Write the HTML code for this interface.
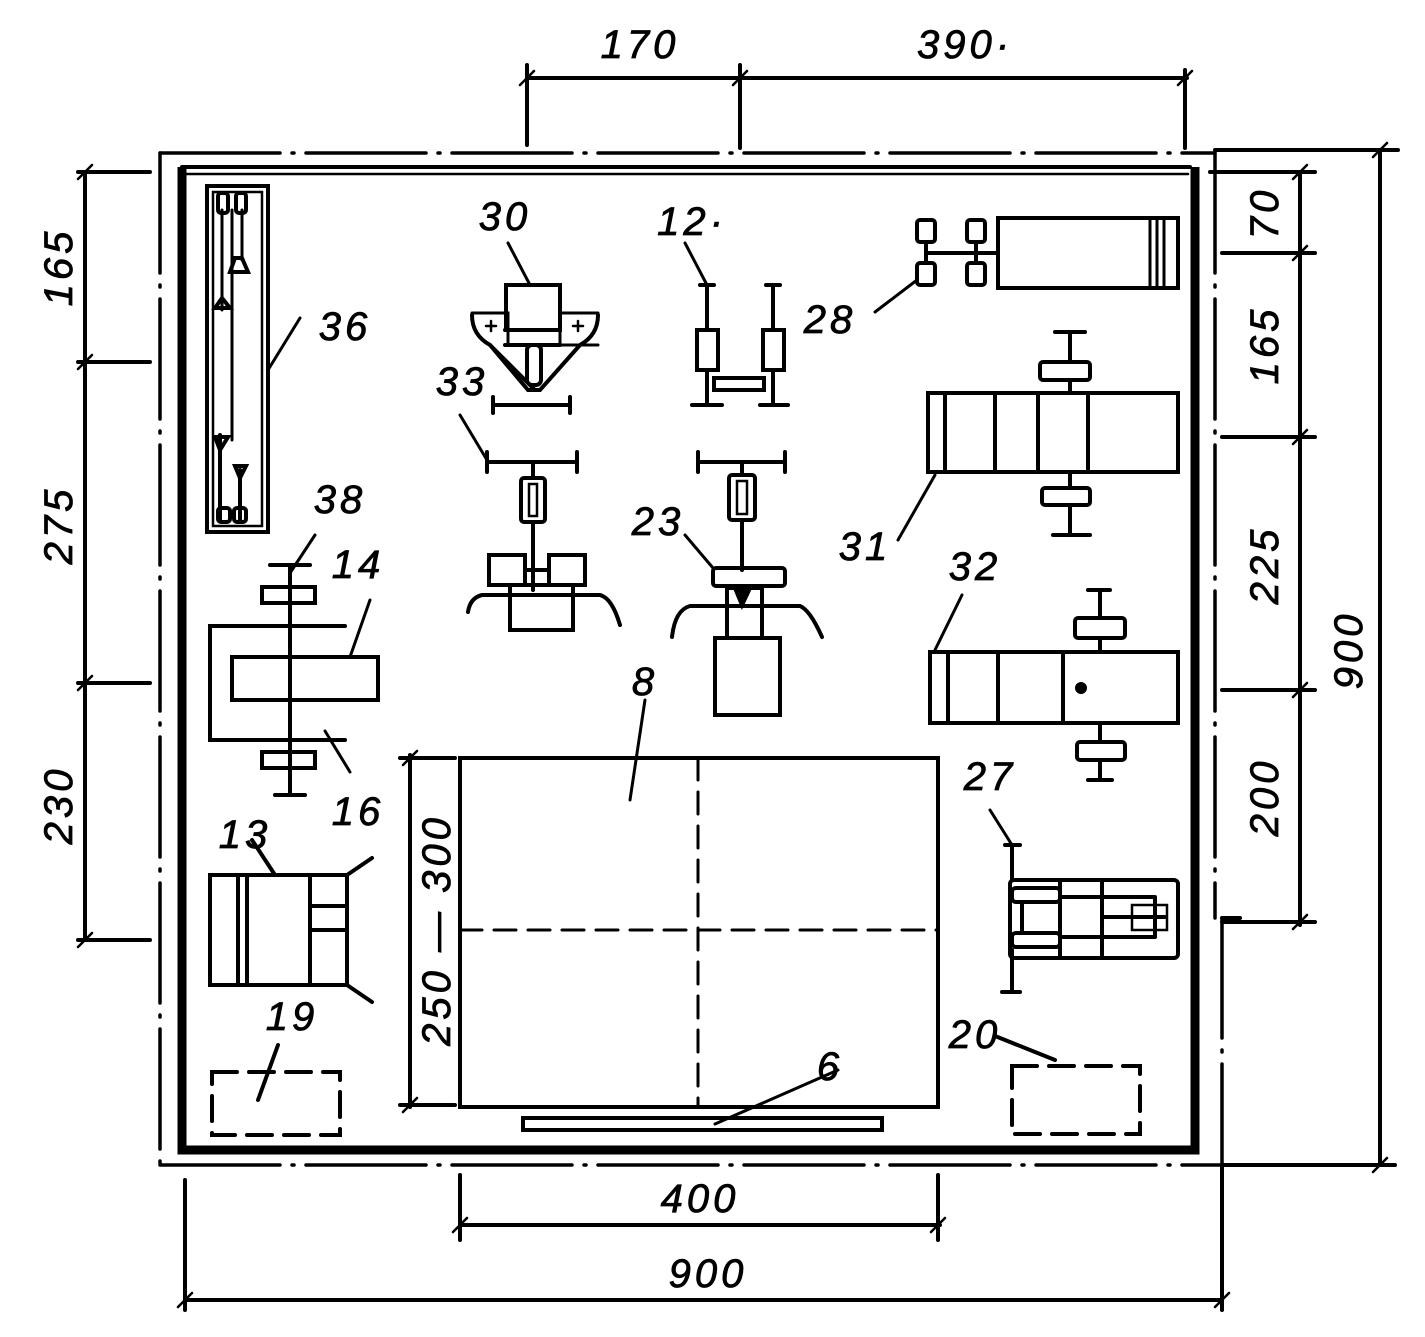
<!DOCTYPE html>
<html><head><meta charset="utf-8"><style>
html,body{margin:0;padding:0;background:#fff;}
svg{display:block;}
text{font-family:"Liberation Sans",sans-serif;font-style:italic;font-size:40px;fill:#000;stroke:#000;stroke-width:0.8px;text-anchor:middle;letter-spacing:4px;}
</style></head><body>
<svg width="1425" height="1337" viewBox="0 0 1425 1337" xmlns="http://www.w3.org/2000/svg">
<g fill="none" stroke="#000" stroke-width="4" stroke-linecap="round">
<!-- outer dash-dot walls -->
<g stroke-dasharray="120 12 2 12" stroke-width="3.5">
<path d="M160 153 H1215"/>
<path d="M160 153 V1165"/>
<path d="M160 1165 H1222"/>
<path d="M1215 153 V918"/>
<path d="M1222 918 V1165"/>
</g>
<path d="M1222 918 H1240"/>
<!-- inner walls -->
<path d="M182 167 H1190" stroke-width="4"/>
<path d="M186 174 H1188" stroke-width="2.5"/>
<path d="M182 167 V1150 H1195 V167" stroke-width="9" stroke-linecap="butt"/>

<!-- top dimensions -->
<path d="M527 78 H1187"/>
<path d="M527 65 V145 M740 65 V148 M1185 70 V148"/>
<path d="M520 85 L534 71 M733 85 L747 71 M1178 85 L1192 71" stroke-width="2.5"/>
<!-- left dimensions -->
<path d="M85 172 V940"/>
<path d="M78 172 H150 M78 362 H150 M78 683 H150 M78 940 H150"/>
<path d="M78 179 L92 165 M78 369 L92 355 M78 690 L92 676 M78 947 L92 933" stroke-width="2.5"/>
<!-- right dimensions -->
<path d="M1300 172 V925"/>
<path d="M1210 172 H1315 M1222 253 H1315 M1222 437 H1315 M1222 690 H1315 M1222 922 H1315"/>
<path d="M1293 179 L1307 165 M1293 260 L1307 246 M1293 444 L1307 430 M1293 697 L1307 683 M1293 929 L1307 915" stroke-width="2.5"/>
<path d="M1380 150 V1165"/>
<path d="M1215 150 H1398 M1222 1165 H1395"/>
<path d="M1373 157 L1387 143 M1373 1172 L1387 1158" stroke-width="2.5"/>
<!-- bottom dimensions -->
<path d="M460 1225 H940"/>
<path d="M460 1175 V1240 M938 1175 V1240"/>
<path d="M453 1232 L467 1218 M931 1232 L945 1218" stroke-width="2.5"/>
<path d="M185 1300 H1222"/>
<path d="M185 1180 V1310 M1222 1165 V1310"/>
<path d="M178 1307 L192 1293 M1215 1307 L1229 1293" stroke-width="2.5"/>
<!-- 250-300 -->
<path d="M410 755 V1107"/>
<path d="M400 758 H455 M400 1105 H455"/>
<path d="M403 765 L417 751 M403 1112 L417 1098" stroke-width="2.5"/>

<!-- table 8 -->
<rect x="460" y="758" width="478" height="349"/>
<path d="M698 758 V1107 M460 930 H938" stroke-dasharray="22 12" stroke-width="3"/>
<path d="M630 800 L645 700" stroke-width="3"/>
<!-- 6 -->
<rect x="523" y="1118" width="359" height="12"/>
<path d="M715 1124 L838 1070" stroke-width="3"/>
<!-- 19, 20 dashed -->
<rect x="212" y="1072" width="128" height="63" stroke-dasharray="25 12"/>
<rect x="1012" y="1066" width="128" height="68" stroke-dasharray="25 12"/>
<path d="M258 1100 L278 1045 M995 1036 L1055 1060"/>

<!-- 36 -->
<rect x="207" y="186" width="61" height="346"/>
<rect x="213" y="192" width="49" height="334" stroke-width="2.5"/>
<path d="M222 210 V310 M242 210 V260 M232 210 V440" stroke-width="3"/>
<rect x="218" y="193" width="10" height="20" rx="3"/><rect x="236" y="193" width="10" height="20" rx="3"/>
<path d="M235 258 L230 272 H248 L242 258 Z M222 298 L215 308 H230 Z M220 435 V520 M240 470 V520"/>
<path d="M215 437 L220 450 L228 437 Z M235 466 L240 478 L246 466 Z"/>
<rect x="218" y="508" width="12" height="14" rx="3"/><rect x="234" y="508" width="12" height="14" rx="3"/>
<path d="M268 370 L300 318" stroke-width="3"/>

<!-- 14/38/16 machine -->
<path d="M345 626 H210 V740 H345"/>
<rect x="232" y="657" width="146" height="43"/>
<path d="M290 565 V795 M270 565 H310 M275 795 H305"/>
<rect x="262" y="587" width="53" height="16"/>
<rect x="262" y="752" width="53" height="16"/>
<path d="M290 573 L315 535 M370 600 L350 657 M325 731 L350 772" stroke-width="3"/>

<!-- 13 -->
<rect x="210" y="875" width="137" height="110"/>
<path d="M238 875 V985 M247 875 V985 M310 875 V985 M310 906 H347 M310 930 H347 M347 875 L372 858 M347 985 L372 1002 M275 875 L252 840"/>

<!-- 30 -->
<rect x="506" y="285" width="54" height="45"/>
<path d="M472 315 Q472 335 490 345 L528 390 H540 L580 345 Q598 335 598 315"/>
<path d="M472 313 H508 V345 M560 313 H598 M560 330 V345 H598" stroke-width="3"/>
<path d="M505 330 H560 M505 345 H560 M490 345 L535 390"/>
<rect x="527" y="345" width="14" height="40" rx="5"/>
<path d="M486 326 H496 M491 321 V331 M573 326 H583 M578 321 V331" stroke-width="2.5"/>
<path d="M493 405 H570 M493 397 V413 M570 397 V413"/>
<path d="M530 285 L508 243" stroke-width="3"/>

<!-- 12 -->
<rect x="697" y="330" width="21" height="40"/>
<rect x="763" y="330" width="21" height="40"/>
<path d="M707 285 V330 M707 370 V405 M700 285 H714 M773 285 V330 M773 370 V405 M766 285 H780 M692 405 H722 M760 405 H788"/>
<rect x="714" y="378" width="50" height="12"/>
<path d="M707 285 L685 243" stroke-width="3"/>

<!-- 28 -->
<rect x="998" y="218" width="180" height="70"/>
<path d="M1150 220 V288 M1157 220 V288 M1164 220 V288" stroke-width="3"/>
<rect x="917" y="220" width="18" height="22" rx="3"/><rect x="917" y="263" width="18" height="22" rx="3"/>
<rect x="967" y="220" width="18" height="22" rx="3"/><rect x="967" y="263" width="18" height="22" rx="3"/>
<path d="M926 242 V263 M976 242 V263 M926 253 H998"/>
<path d="M917 280 L875 312" stroke-width="3"/>

<!-- 31 -->
<rect x="928" y="393" width="250" height="79"/>
<path d="M945 393 V472 M995 393 V472 M1038 393 V472 M1088 393 V472"/>
<path d="M1070 332 V362 M1055 332 H1085 M1070 380 V393 M1070 472 V488 M1070 505 V535 M1053 535 H1090"/>
<rect x="1040" y="362" width="50" height="18" rx="3"/>
<rect x="1042" y="488" width="48" height="17" rx="3"/>
<path d="M935 475 L898 540" stroke-width="3"/>

<!-- 32 -->
<rect x="930" y="652" width="248" height="71"/>
<path d="M948 652 V723 M998 652 V723 M1063 652 V723"/>
<circle cx="1081" cy="688" r="4" fill="#000"/>
<path d="M1100 590 V618 M1088 590 H1110 M1100 638 V652 M1100 723 V742 M1100 760 V780 M1088 780 H1112"/>
<rect x="1075" y="618" width="50" height="20" rx="3"/>
<rect x="1077" y="742" width="48" height="18" rx="3"/>
<path d="M935 650 L962 595" stroke-width="3"/>

<!-- 33 -->
<path d="M487 462 H577 M487 452 V472 M577 452 V472 M533 462 V478 M533 522 V590"/>
<rect x="521" y="478" width="24" height="44" rx="3"/>
<rect x="529" y="484" width="8" height="32" stroke-width="2.5"/>
<rect x="489" y="555" width="36" height="30"/>
<rect x="549" y="555" width="36" height="30"/>
<rect x="510" y="585" width="63" height="45"/>
<path d="M468 612 Q470 598 482 595 H600 Q612 598 620 625 M525 570 H549"/>
<path d="M487 460 L460 415" stroke-width="3"/>

<!-- 23 -->
<path d="M698 462 H785 M698 452 V472 M785 452 V472 M742 462 V475 M742 520 V570"/>
<rect x="729" y="475" width="26" height="45" rx="3"/>
<rect x="737" y="481" width="10" height="33" stroke-width="2.5"/>
<rect x="713" y="568" width="72" height="18" rx="3"/>
<rect x="727" y="588" width="35" height="50"/>
<path d="M735 588 L742 605 L750 588" fill="#000"/>
<rect x="715" y="638" width="65" height="77"/>
<path d="M672 637 Q675 610 690 606 H800 Q810 610 822 637"/>
<path d="M713 568 L685 535" stroke-width="3"/>

<!-- 27 -->
<rect x="1010" y="880" width="168" height="78" rx="4"/>
<path d="M1060 880 V958 M1102 880 V958 M1060 897 H1155 M1060 937 H1155 M1155 897 V937 M1102 917 H1165"/>
<rect x="1132" y="905" width="35" height="25" stroke-width="2.5"/>
<rect x="1012" y="888" width="48" height="14" rx="4"/>
<rect x="1012" y="933" width="48" height="14" rx="4"/>
<path d="M1012 845 V880 M1005 845 H1020 M1012 950 V992 M1002 992 H1020 M1022 902 V933"/>
<path d="M1012 845 L990 810" stroke-width="3"/>
</g>

<!-- labels -->
<text x="640" y="58">170</text>
<text x="965" y="58">390·</text>
<text x="700" y="1212">400</text>
<text x="708" y="1287">900</text>
<g transform="translate(72,267) rotate(-90)"><text>165</text></g>
<g transform="translate(72,525) rotate(-90)"><text>275</text></g>
<g transform="translate(72,805) rotate(-90)"><text>230</text></g>
<g transform="translate(1278,213) rotate(-90)"><text>70</text></g>
<g transform="translate(1278,345) rotate(-90)"><text>165</text></g>
<g transform="translate(1278,565) rotate(-90)"><text>225</text></g>
<g transform="translate(1278,797) rotate(-90)"><text>200</text></g>
<g transform="translate(1362,650) rotate(-90)"><text>900</text></g>
<g transform="translate(450,930) rotate(-90)"><text>250 — 300</text></g>
<text x="345" y="340">36</text>
<text x="505" y="230">30</text>
<text x="692" y="235">12·</text>
<text x="830" y="333">28</text>
<text x="462" y="395">33</text>
<text x="340" y="513">38</text>
<text x="358" y="578">14</text>
<text x="658" y="535">23</text>
<text x="865" y="560">31</text>
<text x="975" y="580">32</text>
<text x="358" y="825">16</text>
<text x="245" y="848">13</text>
<text x="292" y="1030">19</text>
<text x="990" y="790">27</text>
<text x="975" y="1048">20</text>
<text x="645" y="695">8</text>
<text x="830" y="1080">6</text>
</svg>
</body></html>
